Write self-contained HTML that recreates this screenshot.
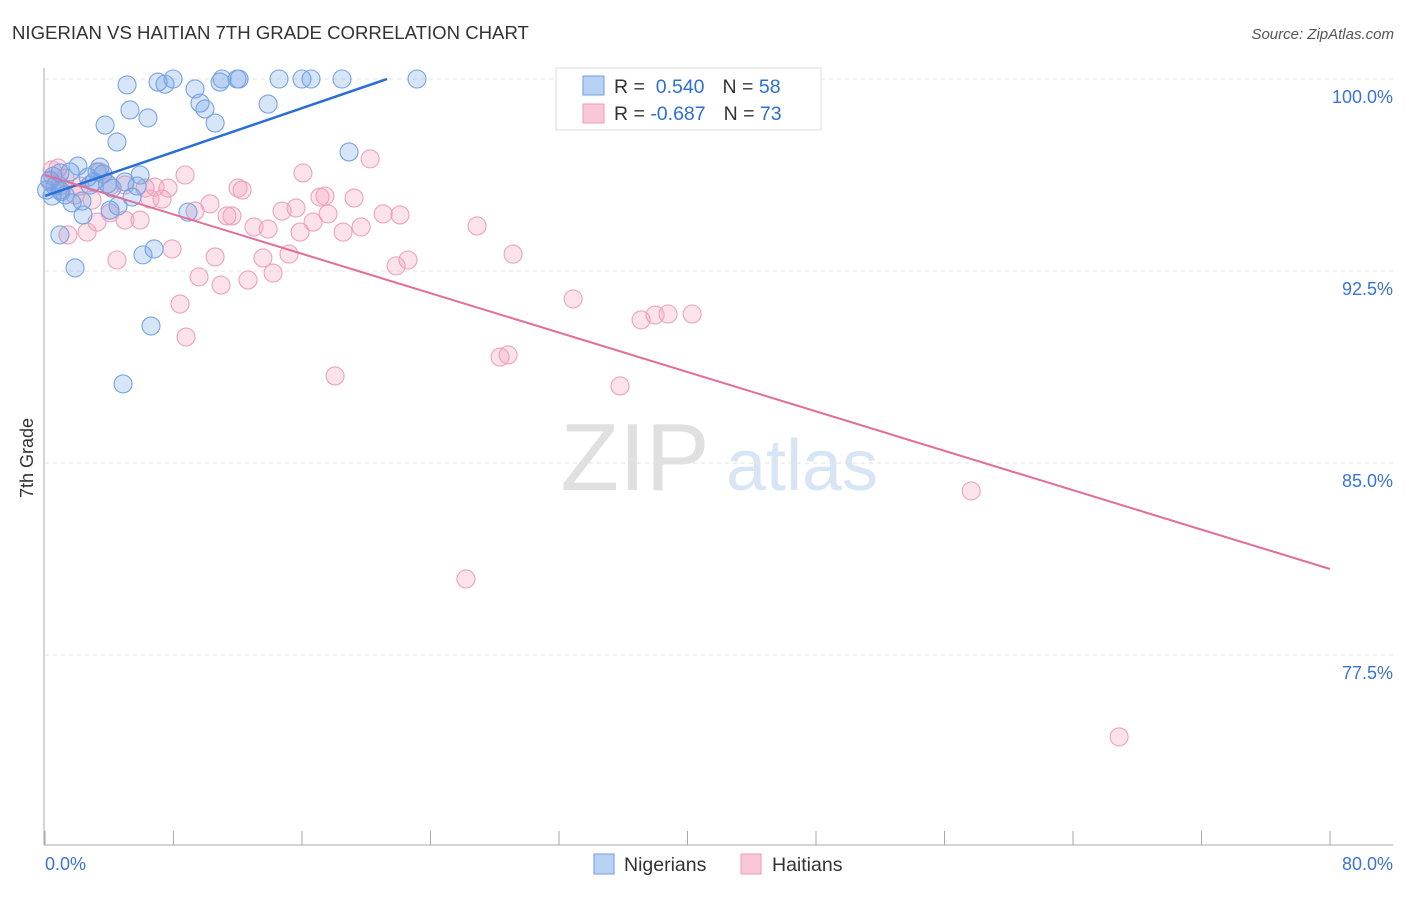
<!DOCTYPE html>
<html><head><meta charset="utf-8"><style>
body{margin:0;background:#fff;font-family:"Liberation Sans",sans-serif}
svg text{font-family:"Liberation Sans",sans-serif}
</style></head><body>
<svg id="c" width="1406" height="892">
<text x="12" y="39" font-size="18.6" fill="#333">NIGERIAN VS HAITIAN 7TH GRADE CORRELATION CHART</text>
<text x="1394" y="39" font-size="15" fill="#555" font-style="italic" text-anchor="end">Source: ZipAtlas.com</text>
<text x="33" y="458" font-size="18" fill="#333" text-anchor="middle" transform="rotate(-90 33 458)">7th Grade</text>
<g><text x="635" y="490" font-size="96" fill="#e0e0e0" text-anchor="middle" font-family="Liberation Serif">ZIP</text><text x="802" y="490" font-size="72" fill="#d8e5f5" text-anchor="middle">atlas</text></g>
<g id="grid"></g><g id="pts"></g><g id="lines"></g>
<g>
<rect x="556" y="68" width="265" height="62" fill="#fff" stroke="#ddd"/>
<rect x="583" y="76" width="21" height="19" fill="#b7d2f5" stroke="#6f9ee0"/>
<rect x="583" y="104" width="21" height="19" fill="#f9c8d8" stroke="#ee9ab8"/>
<text x="614" y="93" font-size="19.5" fill="#333">R = <tspan fill="#2d6fd4">&#160;0.540</tspan><tspan dx="18">N = </tspan><tspan fill="#2d6fd4">58</tspan></text>
<text x="614" y="120" font-size="19.5" fill="#333">R = <tspan fill="#2d6fd4">-0.687</tspan><tspan dx="18">N = </tspan><tspan fill="#2d6fd4">73</tspan></text>
</g>
<g>
<rect x="594" y="854" width="20" height="20" fill="#b7d2f5" stroke="#6f9ee0"/>
<text x="624" y="871" font-size="19.5" fill="#333">Nigerians</text>
<rect x="741" y="854" width="20" height="20" fill="#f9c8d8" stroke="#ee9ab8"/>
<text x="772" y="871" font-size="19.5" fill="#333">Haitians</text>
</g>
</svg>
<script>
const yTicks=[100,92.5,85,77.5];
const yTickLabels=["100.0%","92.5%","85.0%","77.5%"];
const xTickLabels=["0.0%","80.0%"];
const nigX=[5.11,7.04,7.47,7.97,9.34,9.65,9.96,10.59,10.90,11.02,11.96,12.08,14.57,16.00,16.56,18.49,23.16,13.89,18.93,5.29,6.41,3.74,4.48,2.05,3.42,0.93,1.56,2.68,3.05,3.61,5.92,5.73,4.98,0.31,0.62,0.93,0.44,1.68,2.30,4.05,4.55,5.42,2.37,8.90,0.93,6.10,6.79,1.87,6.60,4.86,0.1,1.25,2.80,3.24,4.17,0.5,1.0,3.9];
const nigY=[99.77,99.88,99.80,100,99.61,99.06,98.83,98.28,99.88,100,100,100,100,100,100,100,100,99.02,97.15,98.79,98.48,98.20,97.54,96.60,96.56,96.33,96.37,96.17,95.98,96.29,96.25,95.82,95.98,96.05,95.82,95.66,95.43,95.16,95.23,94.88,95.04,95.39,94.69,94.80,93.91,93.13,93.36,92.62,90.35,88.09,95.66,95.47,95.86,96.37,95.74,96.2,95.6,95.9];
const haiX=[0.44,0.81,1.25,2.18,3.42,4.05,4.98,6.23,6.85,7.66,8.72,7.29,6.54,4.98,5.92,4.05,3.24,2.62,1.43,4.48,7.91,8.41,8.78,9.59,10.59,10.96,12.64,14.20,13.57,15.19,10.27,9.34,11.33,11.64,12.02,12.27,13.01,13.89,14.76,15.63,15.88,16.69,16.06,17.12,17.43,17.62,18.56,19.24,19.68,20.24,21.05,21.86,22.10,22.60,26.90,29.14,32.88,28.33,28.83,35.80,37.11,37.98,38.79,40.29,18.06,26.21,57.66,66.87,32.38,0.93,1.87,2.93,0.3];
const haiY=[96.45,96.52,96.13,95.82,96.37,95.82,95.86,95.74,95.78,95.74,96.25,95.31,95.31,94.49,94.49,94.77,94.41,94.02,93.91,92.93,93.36,91.21,89.92,92.27,93.05,91.95,92.15,92.42,93.01,93.16,95.12,94.84,94.65,94.65,95.74,95.66,94.22,94.14,94.84,94.96,94.02,94.41,96.33,95.39,95.43,94.73,94.02,95.35,94.22,96.88,94.73,92.70,94.69,92.93,94.26,93.16,91.41,89.14,89.22,88.01,90.59,90.78,90.82,90.82,88.40,80.47,83.91,74.30,100,95.82,95.47,95.27,96.0];
const trendX=[0,21.3];
const nigTrendY=[95.43,100];
const haiTrendX=[0,80];
const haiTrendY=[96.25,80.86];
const NS='http://www.w3.org/2000/svg';
const sx=v=>45+v*16.0625, sy=v=>79+(100-v)*25.6;
function mk(t,a,p){const e=document.createElementNS(NS,t);for(const k in a)e.setAttribute(k,a[k]);p.appendChild(e);return e;}
const g=document.getElementById('grid');
yTicks.forEach((t,i)=>{
 const l=mk('line',{x1:45,x2:1393,y1:sy(t),y2:sy(t),stroke:'#e2e2e2','stroke-dasharray':'4,4'},g);
 
 
 const tx=mk('text',{x:1393,y:sy(t)+24,'font-size':18,fill:'#3b74d8','text-anchor':'end'},g);
 tx.textContent=yTickLabels[i];
 
 
});
const ya=mk('line',{x1:44,x2:44,y1:68,y2:845,stroke:'#aaa'},g);


const xa=mk('line',{x1:44,x2:1393,y1:845,y2:845,stroke:'#aaa'},g);


for(let i=0;i<=10;i++){const v=i*8;const t=mk('line',{x1:sx(v),x2:sx(v),y1:831,y2:845,stroke:'#aaa'},g);
 
 }
[[0,'start',45],[80,'end',1393]].forEach((d,i)=>{const t=mk('text',{x:d[2],y:870,'font-size':18,fill:'#3b74d8','text-anchor':d[1]},g);t.textContent=xTickLabels[i];
 
 });
const p=document.getElementById('pts');
haiX.forEach((x,i)=>{const c=mk('circle',{cx:sx(x),cy:sy(haiY[i]),r:9,fill:'rgba(244,160,190,0.3)',stroke:'#eda2bc','stroke-width':1.1},p);
 
 });
nigX.forEach((x,i)=>{const c=mk('circle',{cx:sx(x),cy:sy(nigY[i]),r:9,fill:'rgba(110,160,230,0.28)',stroke:'#78a3e2','stroke-width':1.1},p);
 
 });
const L=document.getElementById('lines');
const b=mk('line',{x1:sx(trendX[0]),y1:sy(nigTrendY[0]),x2:sx(trendX[1]),y2:sy(nigTrendY[1]),stroke:'#2a6fd6','stroke-width':2.5},L);


const h=mk('line',{x1:sx(haiTrendX[0]),y1:sy(haiTrendY[0]),x2:sx(haiTrendX[1]),y2:sy(haiTrendY[1]),stroke:'#e36d98','stroke-width':2},L);


</script>
</body></html>
